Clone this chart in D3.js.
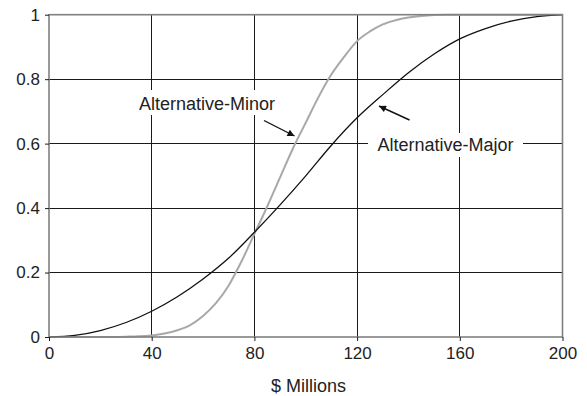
<!DOCTYPE html>
<html>
<head>
<meta charset="utf-8">
<script src="https://cdn.jsdelivr.net/npm/d3@7"></script>
<style>
  html, body { margin: 0; padding: 0; background: #fff; }
  svg { display: block; font-family: "Liberation Sans", Arial, Helvetica, sans-serif; }
</style>
</head>
<body>
<svg id="chart" width="587" height="396"></svg>
<script>
// ---- data ----
const xValues = [0, 10, 20, 30, 40, 50, 60, 70, 80, 90, 100, 110, 120, 130, 140, 150, 160, 170, 180, 190, 200];
const majorValues = [0, 0.005, 0.02, 0.045, 0.08, 0.125, 0.18, 0.245, 0.325, 0.41, 0.50, 0.595, 0.68, 0.752, 0.82, 0.878, 0.925, 0.957, 0.98, 0.994, 1.0];

const minorX = [0, 10, 20, 30, 35, 40, 45, 50, 55, 60, 65, 70, 75, 80, 85, 90, 95, 100, 105, 110, 115, 120, 125, 130, 135, 140, 145, 150, 155, 160, 170, 180, 190, 200];
const minorValues = [0, 0, 0, 0.001, 0.002, 0.005, 0.011, 0.021, 0.037, 0.065, 0.105, 0.16, 0.235, 0.32, 0.405, 0.495, 0.585, 0.665, 0.745, 0.815, 0.87, 0.918, 0.948, 0.97, 0.983, 0.991, 0.996, 0.999, 1, 1, 1, 1, 1, 1];

const xTicks = [0, 40, 80, 120, 160, 200];
const yTicks = [0, 0.2, 0.4, 0.6, 0.8, 1];
const yTickLabels = ["0", "0.2", "0.4", "0.6", "0.8", "1"];
const xAxisTitle = "$ Millions";
const seriesNames = ["Alternative-Minor", "Alternative-Major"];

// ---- layout ----
const svg = d3.select("#chart");
const mLeft = 49, mRight = 562.5, mTop = 14.7, mBottom = 337;
const x = d3.scaleLinear().domain([0, 200]).range([mLeft, mRight]);
const y = d3.scaleLinear().domain([0, 1]).range([mBottom, mTop]);

const gridColor = "#1a1a1a";
const frameColor = "#808080";
const textColor = "#222";

// gridlines
svg.append("g").selectAll("line")
  .data(xTicks.filter(d => d > 0 && d < 200)).join("line")
  .attr("x1", d => x(d)).attr("x2", d => x(d))
  .attr("y1", mTop).attr("y2", mBottom)
  .attr("stroke", gridColor).attr("stroke-width", 1).attr("shape-rendering", "crispEdges");
svg.append("g").selectAll("line")
  .data(yTicks.filter(d => d > 0 && d < 1)).join("line")
  .attr("x1", mLeft).attr("x2", mRight)
  .attr("y1", d => y(d)).attr("y2", d => y(d))
  .attr("stroke", gridColor).attr("stroke-width", 1).attr("shape-rendering", "crispEdges");

// white label boxes
const labelBoxes = [
  { x0: 129, x1: 287, y0: 90, y1: 115 },
  { x0: 368, x1: 523, y0: 133, y1: 157 }
];
svg.append("g").selectAll("rect").data(labelBoxes).join("rect")
  .attr("x", d => d.x0).attr("y", d => d.y0)
  .attr("width", d => d.x1 - d.x0).attr("height", d => d.y1 - d.y0)
  .attr("fill", "#fff");

// curves
const line = d3.line().x(d => x(d[0])).y(d => y(d[1])).curve(d3.curveMonotoneX);
svg.append("path")
  .datum(minorX.map((v, i) => [v, minorValues[i]]))
  .attr("d", line).attr("fill", "none")
  .attr("stroke", "#a8a8a8").attr("stroke-width", 2);
svg.append("path")
  .datum(xValues.map((v, i) => [v, majorValues[i]]))
  .attr("d", line).attr("fill", "none")
  .attr("stroke", "#111").attr("stroke-width", 1.3);

// frame
svg.append("rect")
  .attr("x", mLeft).attr("y", mTop)
  .attr("width", mRight - mLeft).attr("height", mBottom - mTop)
  .attr("fill", "none").attr("stroke", frameColor).attr("stroke-width", 1.6);

// axes (ticks + labels)
const xAxis = d3.axisBottom(x).tickValues(xTicks).tickSize(4).tickSizeOuter(0).tickPadding(6).tickFormat(d3.format("d"));
const gx = svg.append("g").attr("transform", `translate(0,${mBottom})`).call(xAxis);
gx.select(".domain").remove();
gx.selectAll(".tick line").attr("stroke", gridColor);
gx.selectAll(".tick text").attr("fill", textColor).attr("font-size", 17)
  .attr("font-family", "Liberation Sans, Arial, sans-serif");

const yAxis = d3.axisLeft(y).tickValues(yTicks).tickSize(4).tickSizeOuter(0).tickPadding(5)
  .tickFormat((d, i) => yTickLabels[i]);
const gy = svg.append("g").attr("transform", `translate(${mLeft},0)`).call(yAxis);
gy.select(".domain").remove();
gy.selectAll(".tick line").attr("stroke", gridColor);
gy.selectAll(".tick text").attr("fill", textColor).attr("font-size", 17)
  .attr("font-family", "Liberation Sans, Arial, sans-serif");

// axis title
svg.append("text").attr("x", 308.5).attr("y", 391.5)
  .attr("text-anchor", "middle").attr("font-size", 18).attr("fill", textColor)
  .text(xAxisTitle);

// series labels
svg.append("text").attr("x", 139).attr("y", 110).attr("font-size", 18).attr("fill", textColor).text(seriesNames[0]);
svg.append("text").attr("x", 377.5).attr("y", 151).attr("font-size", 18).attr("fill", textColor).text(seriesNames[1]);

// arrows
const defs = svg.append("defs");
defs.append("marker").attr("id", "ah").attr("viewBox", "0 0 10 10")
  .attr("refX", 10).attr("refY", 5).attr("markerWidth", 8).attr("markerHeight", 7)
  .attr("markerUnits", "userSpaceOnUse").attr("orient", "auto")
  .append("path").attr("d", "M0,0 L10,5 L0,10 Z").attr("fill", "#111");
const arrows = [
  { x1: 264, y1: 120.5, x2: 294.5, y2: 136 },
  { x1: 409.5, y1: 120, x2: 379, y2: 106 }
];
svg.append("g").selectAll("line").data(arrows).join("line")
  .attr("x1", d => d.x1).attr("y1", d => d.y1).attr("x2", d => d.x2).attr("y2", d => d.y2)
  .attr("stroke", "#111").attr("stroke-width", 1.4).attr("marker-end", "url(#ah)");
</script>
</body>
</html>
